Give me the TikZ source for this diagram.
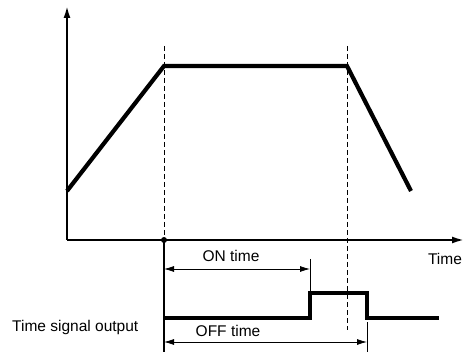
\documentclass[tikz,border=0pt]{standalone}
\usepackage{fontspec}
\setmainfont{Liberation Sans}
\usetikzlibrary{arrows.meta}
\begin{document}
\begin{tikzpicture}[x=1pt,y=-1pt,
 axis/.style={line width=2pt},
 curve/.style={line width=4.2pt, line join=miter},
 pulse/.style={line width=3.5pt, line join=miter},
 guide/.style={line width=1pt, dash pattern=on 5pt off 3pt},
 dimline/.style={line width=0.8pt, {Latex[length=10pt,width=6pt]}-{Latex[length=10pt,width=6pt]}},
 thinline/.style={line width=0.8pt},
 lbl/.style={font=\fontsize{15.5}{18}\selectfont, inner sep=0pt}]
\useasboundingbox (0,0) rectangle (465,352);
% axes
\coordinate (O) at (67,240);
\coordinate (ytop) at (67,6);
\coordinate (xend) at (464,240);
\draw[axis,-{Latex[length=12pt,width=7pt]}] (O) -- (ytop);
\draw[axis,-{Latex[length=12pt,width=7pt]}] (O) -- (xend);
% curve
\coordinate (c1) at (67,191);
\coordinate (c2) at (164,66);
\coordinate (c3) at (347,66);
\coordinate (c4) at (411,191);
\draw[curve] (c1) -- (c2) -- (c3) -- (c4);
% guides
\coordinate (g1t) at (164,46);
\coordinate (g1b) at (164,240);
\coordinate (g2t) at (347,46);
\coordinate (g2b) at (347,330);
\draw[guide] (g1t) -- (g1b);
\draw[guide] (g2t) -- (g2b);
\fill (g1b) circle (3pt);
\coordinate (vb) at (164,352);
\draw[axis] (g1b) -- (vb);
% pulse
\coordinate (p0) at (164,318);
\coordinate (p1) at (310,318);
\coordinate (p2) at (310,293);
\coordinate (p3) at (367,293);
\coordinate (p4) at (367,318);
\coordinate (p5) at (439,318);
\draw[pulse] (p0) -- (p1) -- (p2) -- (p3) -- (p4) -- (p5);
% ON time
\coordinate (on0) at (164,269);
\coordinate (on1) at (310,269);
\coordinate (ont) at (310,259);
\draw[dimline] (on0) -- (on1);
\draw[thinline] (ont) -- (p2);
\node[lbl] (onl) at (231,256) {ON time};
% OFF time
\coordinate (of0) at (164,342);
\coordinate (of1) at (367,342);
\coordinate (oft) at (367,322);
\coordinate (ofb) at (367,352);
\draw[dimline] (of0) -- (of1);
\draw[thinline] (oft) -- (ofb);
\node[lbl] (ofl) at (228,331) {OFF time};
% labels
\node[lbl] (timel) at (445,259) {Time};
\node[lbl,anchor=west] (tso) at (12,327) {Time signal output};
\end{tikzpicture}
\end{document}
